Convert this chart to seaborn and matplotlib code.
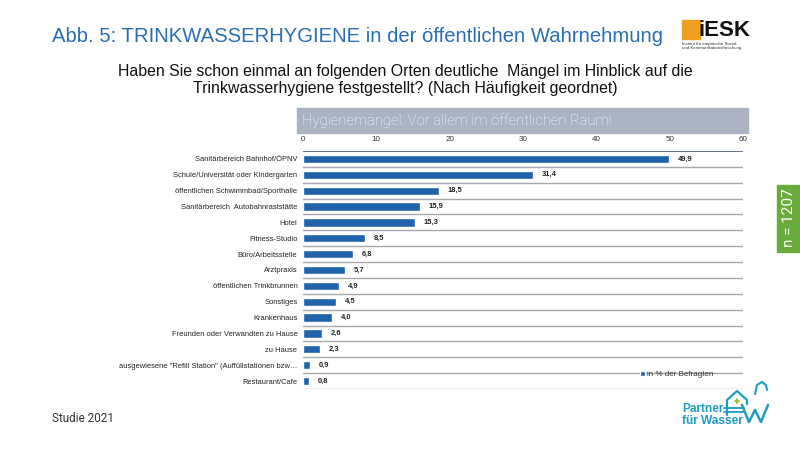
import matplotlib
matplotlib.use("Agg")
import matplotlib.pyplot as plt
import seaborn as sns
import pandas as pd
from matplotlib.patches import Rectangle
from matplotlib.lines import Line2D

categories = [
    "Sanitärbereich Bahnhof/ÖPNV",
    "Schule/Universität oder Kindergarten",
    "öffentlichen Schwimmbad/Sporthalle",
    "Sanitärbereich  Autobahnraststätte",
    "Hotel",
    "Fitness-Studio",
    "Büro/Arbeitsstelle",
    "Arztpraxis",
    "öffentlichen Trinkbrunnen",
    "Sonstiges",
    "Krankenhaus",
    "Freunden oder Verwandten zu Hause",
    "zu Hause",
    "ausgewiesene \"Refill Station\" (Auffüllstationen bzw…",
    "Restaurant/Cafe",
]
values = [49.9, 31.4, 18.5, 15.9, 15.3, 8.5, 6.8, 5.7, 4.9, 4.5, 4.0, 2.6, 2.3, 0.9, 0.8]
x_ticks = [0, 10, 20, 30, 40, 50, 60]
series_name = "in % der Befragten"

df = pd.DataFrame({"Ort": categories, "Wert": values})

sns.set_theme(style="white")
plt.rcParams['font.family'] = ['Liberation Sans', 'DejaVu Sans']

fig = plt.figure(figsize=(8, 4.5), dpi=100)
W, H = 800, 450

def fx(px):
    return px / W

def fy(py):
    return 1 - py / H

ax = fig.add_axes([fx(303), fy(389), fx(743) - fx(303), fy(151) - fy(389)])
bar_color = "#1f63ab"
sns.barplot(data=df, x="Wert", y="Ort", orient="h", color=bar_color,
            width=0.52, ax=ax, saturation=1, label=series_name)

ax.set_xlim(0, 60)
ax.set_ylim(len(categories) - 0.5, -0.5)
ax.set_xticks(x_ticks)
ax.xaxis.tick_top()
ax.tick_params(axis="x", length=0, pad=6, labelsize=5.8, colors="#333333")
ax.tick_params(axis="y", length=0, pad=4, labelsize=5.4, colors="#222222")
ax.set_xlabel("")
ax.set_ylabel("")
for s in ax.spines.values():
    s.set_visible(False)

for k in range(len(categories) + 1):
    if k == 0:
        ax.axhline(k - 0.5, color="#4a5a78", lw=1.2, zorder=0)
    else:
        ax.axhline(k - 0.5, color="#a8a8a8", lw=1.0, zorder=0)

for i, v in enumerate(values):
    ax.text(v + 1.2, i, f"{v:.1f}".replace(".", ","), va="center", ha="left",
            fontsize=5.4, fontweight="bold", color="#222222")

# legend
leg = ax.legend(loc="lower right", bbox_to_anchor=(0.95, 0.015), frameon=False,
                fontsize=5.8, handlelength=0.6, handleheight=0.7, handletextpad=0.3)
for t in leg.get_texts():
    t.set_color("#333333")

# header band
fig.patches.append(Rectangle((fx(297), fy(133)), fx(748) - fx(297), fy(108) - fy(133),
                             transform=fig.transFigure, color="#a9b3c2", zorder=0))
fig.text(fx(302), fy(121), "Hygienemängel: Vor allem im öffentlichen Raum!",
         color="white", fontsize=10.6, va="center", ha="left",
         family=["Roboto", "DejaVu Sans"], fontweight="light")

# title
fig.text(fx(52), fy(37), "Abb. 5: TRINKWASSERHYGIENE in der öffentlichen Wahrnehmung",
         color="#2a6db2", fontsize=14.6, va="center", ha="left",
         family=["Liberation Sans Narrow", "Liberation Sans", "DejaVu Sans"])
fig.text(fx(405), fy(80),
         "Haben Sie schon einmal an folgenden Orten deutliche  Mängel im Hinblick auf die\n"
         "Trinkwasserhygiene festgestellt? (Nach Häufigkeit geordnet)",
         color="#111111", fontsize=11.4, va="center", ha="center", linespacing=1.1,
         family=["Liberation Sans Narrow", "Liberation Sans", "DejaVu Sans"])

# iESK logo
fig.patches.append(Rectangle((fx(682), fy(39)), fx(18), 19 / H,
                             transform=fig.transFigure, color="#f0a020", zorder=1))
fig.text(fx(698), fy(30), "iESK", fontsize=16, fontweight="bold", color="#111111",
         va="center", ha="left")
fig.text(fx(682), fy(46), "Institut für empirische Sozial-\nund Kommunikationsforschung",
         fontsize=3.2, color="#333333", va="center", ha="left", linespacing=1.1)

# n box
fig.patches.append(Rectangle((fx(777), fy(252)), fx(800) - fx(777), fy(185) - fy(252),
                             transform=fig.transFigure, color="#6aac3c", zorder=1))
fig.text(fx(789), fy(218), "n = 1207", rotation=90, color="white", fontsize=11,
         va="center", ha="center", family=["Roboto", "DejaVu Sans"])

# Partner für Wasser
pc = "#1f9cc4"
fig.text(fx(682), fy(415), "Partner\nfür Wasser", color=pc, fontsize=8.6,
         fontweight="bold", va="center", ha="left", linespacing=0.95)

def fline(xs, ys, lw, color=pc):
    fig.lines.append(Line2D([fx(v) for v in xs], [fy(v) for v in ys],
                            transform=fig.transFigure, color=color, lw=lw,
                            solid_capstyle="round", solid_joinstyle="round"))

fline([727, 727, 737, 747, 747], [415, 400, 391, 400, 404], 1.6)
fline([724, 744], [408, 408], 1.3)
fline([724, 744], [412, 412], 1.3)
fline([742, 749, 755, 761, 768], [405, 422, 410, 422, 405], 1.8)
fline([755, 757, 762, 766, 767], [394, 385, 382, 385, 390], 1.5)
fline([735, 739], [401, 401], 1.4, "#9ac43a")
fline([737, 737], [399, 403], 1.4, "#9ac43a")

fig.text(fx(52), fy(418), "Studie 2021", color="#333333", fontsize=8.5, va="center",
         ha="left", family=["Roboto", "DejaVu Sans"])

fig.savefig("out.png", dpi=100)
